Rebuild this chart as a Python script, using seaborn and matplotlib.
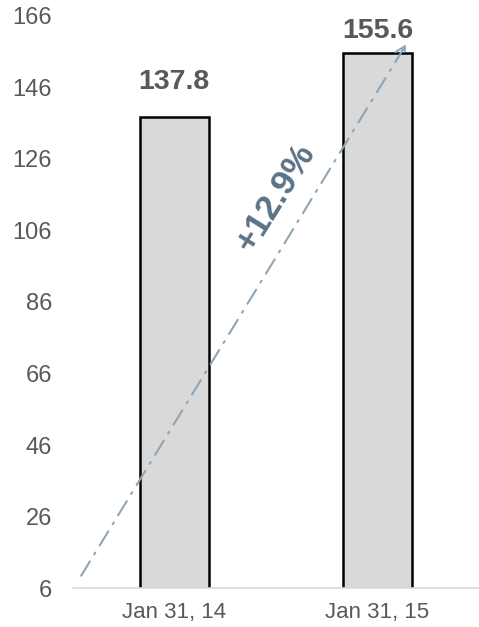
import matplotlib
matplotlib.use("Agg")
import matplotlib.pyplot as plt
import seaborn as sns
import pandas as pd

dates = ["Jan 31, 14", "Jan 31, 15"]
values = [137.8, 155.6]
change_label = "+12.9%"
y_ticks = [6, 26, 46, 66, 86, 106, 126, 146, 166]

df = pd.DataFrame({"date": dates, "value": values})

sns.set_style("white")
plt.rcParams["font.family"] = ["Liberation Sans", "DejaVu Sans"]

fig = plt.figure(figsize=(4.79, 6.27), dpi=100)
ax = fig.add_axes([0.152, 0.062, 0.848, 0.913])

sns.barplot(data=df, x="date", y="value", ax=ax, color="#d9d9d9",
            edgecolor="black", linewidth=1.8, width=0.34, saturation=1)

ax.set_ylim(6, 166)
ax.set_xlim(-0.5, 1.5)
ax.set_yticks(y_ticks)
ax.set_xlabel("")
ax.set_ylabel("")
for s in ["top", "right", "left"]:
    ax.spines[s].set_visible(False)
ax.spines["bottom"].set_color("#d9d9d9")
ax.spines["bottom"].set_linewidth(1.2)
ax.tick_params(axis="y", labelsize=17, colors="#595959", length=0, pad=15)
ax.tick_params(axis="x", labelsize=16, colors="#595959", length=0, pad=10)

# value labels above the bars (the right one sits closer to its bar)
label_gap = [20, 11]
for i, v in enumerate(values):
    ax.annotate(f"{v:.1f}", xy=(i, v), xytext=(0, label_gap[i]),
                textcoords="offset points", ha="center", va="baseline",
                fontsize=20.5, fontweight="bold", color="#595959")

ax.annotate("", xy=(1.149, 158.7), xytext=(-0.466, 8.8),
            arrowprops=dict(arrowstyle="->", color="#8fa5b5", lw=1.5,
                            linestyle=(0, (8, 4, 1, 4)), mutation_scale=18))
ax.text(0.5, 115, change_label, rotation=58, ha="center", va="center",
        rotation_mode="anchor", fontsize=25.5, fontweight="bold", color="#5b7387")

fig.savefig("out.png", dpi=100)
